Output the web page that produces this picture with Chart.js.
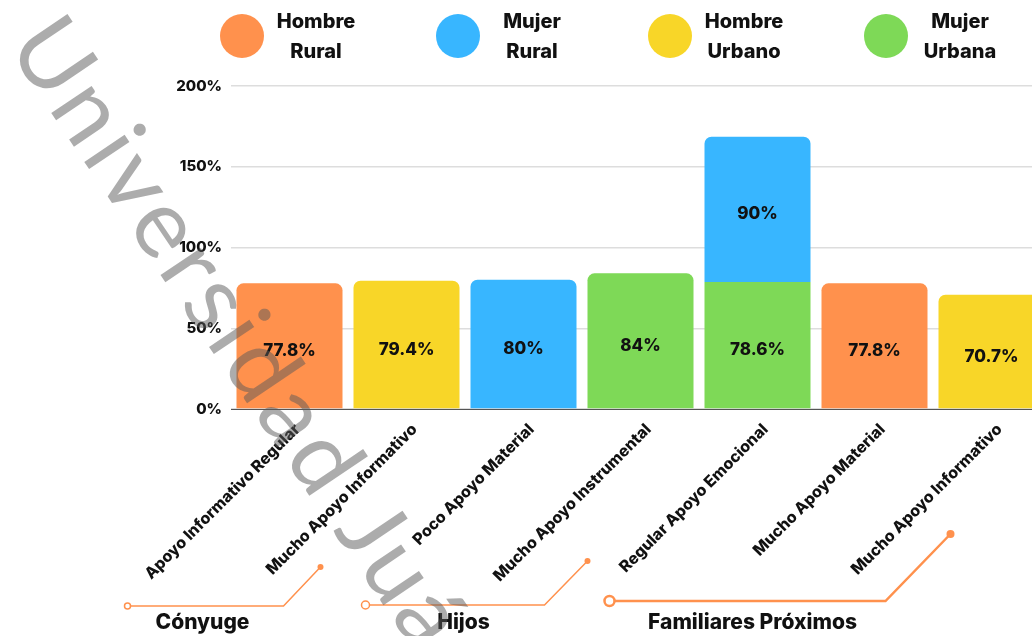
<!DOCTYPE html>
<html>
<head>
<meta charset="utf-8">
<script src="https://cdn.jsdelivr.net/npm/chart.js@4"></script>
<style>
  html, body { margin: 0; padding: 0; background: #fff; overflow: hidden; }
  #wrap { position: relative; width: 1050px; height: 636px; }
  #chart { position: absolute; left: 0; top: 0; }
  #legend { position: absolute; left: 0; top: 0; width: 1032px; height: 76px; }
  .item { position: absolute; top: 6px; display: flex; align-items: center; }
  .dot { width: 44px; height: 44px; border-radius: 50%; }
  .txt { width: 96px; margin-left: 4px; font: 800 20px Inter, sans-serif; line-height: 30px; text-align: center; color: #111; }
</style>
</head>
<body>
<div id="wrap">
  <canvas id="chart" width="1050" height="636"></canvas>
  <div id="legend"></div>
</div>
<script>
// categories along the x axis
const categories = [
  "Apoyo Informativo Regular",
  "Mucho Apoyo Informativo",
  "Poco Apoyo Material",
  "Mucho Apoyo Instrumental",
  "Regular Apoyo Emocional",
  "Mucho Apoyo Material",
  "Mucho Apoyo Informativo"
];

// one series per group, null where the group has no bar
const seriesNames = ["Hombre Rural", "Mujer Rural", "Hombre Urbano", "Mujer Urbana"];
const hombreRural  = [77.8, null, null, null, null, 77.8, null];
const mujerRural   = [null, null, 80, null, 90, null, null];
const hombreUrbano = [null, 79.4, null, null, null, null, 70.7];
const mujerUrbana  = [null, null, null, 84, 78.6, null, null];

const yTicks = [0, 50, 100, 150, 200];

// family groups under the axis
const groupNames = ["Cónyuge", "Hijos", "Familiares Próximos"];
const groupFirst = [0, 2, 4];
const groupLast  = [1, 3, 6];

const colors = ["#ff914d", "#38b6ff", "#f8d628", "#7ed957"];
const FONT = "Inter, sans-serif";

// legend: coloured circle and two-line name
const legendLeft = [220, 436, 648, 864];
const legendEl = document.getElementById("legend");
seriesNames.forEach(function (name, i) {
  const item = document.createElement("div");
  item.className = "item";
  item.style.left = legendLeft[i] + "px";
  const dot = document.createElement("div");
  dot.className = "dot";
  dot.style.background = colors[i];
  const txt = document.createElement("div");
  txt.className = "txt";
  txt.innerHTML = name.split(" ").join("<br>");
  item.appendChild(dot);
  item.appendChild(txt);
  legendEl.appendChild(item);
});

// percentage text in the middle of each bar segment
const valueLabels = {
  id: "valueLabels",
  afterDatasetsDraw(chart) {
    const ctx = chart.ctx;
    ctx.save();
    ctx.font = "800 17px " + FONT;
    ctx.fillStyle = "#111";
    ctx.textAlign = "center";
    ctx.textBaseline = "middle";
    chart.data.datasets.forEach(function (ds, i) {
      chart.getDatasetMeta(i).data.forEach(function (bar, j) {
        const v = ds.data[j];
        if (v == null) return;
        ctx.fillText(v + "%", bar.x, (bar.y + bar.base) / 2 + 5);
      });
    });
    ctx.restore();
  }
};

// orange bracket lines and group names below the rotated labels
const groupDeco = [
  { start: -162, elbow: -123, tip: -86, lineY: 606, tipY: 567, text: -87, r: 3, w: 1.5 },
  { start: -158, elbow: -96,  tip: -53, lineY: 605, tipY: 561, text: -60, r: 4, w: 1.5 },
  { start: -148, elbow: -106, tip: -41, lineY: 601, tipY: 534, text: -5,  r: 5, w: 2.5 }
];
const groupLabels = {
  id: "groupLabels",
  afterDraw(chart) {
    const ctx = chart.ctx;
    const x = chart.scales.x;
    ctx.save();
    groupNames.forEach(function (name, g) {
      const d = groupDeco[g];
      const first = x.getPixelForValue(groupFirst[g]);
      const last = x.getPixelForValue(groupLast[g]);
      ctx.strokeStyle = "#ff914d";
      ctx.fillStyle = "#ff914d";
      ctx.lineWidth = d.w;
      ctx.beginPath();
      ctx.moveTo(first + d.start + d.r, d.lineY);
      ctx.lineTo(last + d.elbow, d.lineY);
      ctx.lineTo(last + d.tip, d.tipY);
      ctx.stroke();
      ctx.beginPath();
      ctx.arc(first + d.start, d.lineY, d.r, 0, Math.PI * 2);
      ctx.stroke();
      ctx.beginPath();
      ctx.arc(last + d.tip, d.tipY, d.w + 1.5, 0, Math.PI * 2);
      ctx.fill();
      ctx.font = "800 21px " + FONT;
      ctx.fillStyle = "#111";
      ctx.textAlign = "center";
      ctx.textBaseline = "middle";
      ctx.fillText(name, first + d.text, 623);
    });
    ctx.restore();
  }
};

// diagonal watermark over the whole figure
const watermark = {
  id: "watermark",
  afterDraw(chart) {
    const ctx = chart.ctx;
    ctx.save();
    ctx.translate(6, 46);
    ctx.rotate(56 * Math.PI / 180);
    ctx.font = "400 96px Lato, sans-serif";
    ctx.letterSpacing = "5px";
    ctx.fillStyle = "rgba(90, 90, 90, 0.5)";
    ctx.textBaseline = "alphabetic";
    ctx.fillText("Universidad Juárez", 0, 0);
    ctx.restore();
  }
};

const series = [hombreRural, mujerRural, hombreUrbano, mujerUrbana];

new Chart(document.getElementById("chart"), {
  type: "bar",
  data: {
    labels: categories,
    datasets: series.map(function (data, i) {
      return {
        label: seriesNames[i],
        data: data,
        backgroundColor: colors[i],
        borderRadius: 7,
        borderSkipped: "start",
        barPercentage: 0.906,
        categoryPercentage: 1,
        // the rural women series sits on top of its stack
        order: i === 1 ? 1 : 0
      };
    })
  },
  options: {
    responsive: false,
    animation: false,
    layout: { padding: { top: 86, left: 0, right: 0, bottom: 0 } },
    plugins: {
      legend: { display: false },
      tooltip: { enabled: false }
    },
    scales: {
      x: {
        stacked: true,
        grid: { display: false },
        border: { display: true, color: "#555", width: 1 },
        ticks: {
          autoSkip: false,
          minRotation: 45,
          maxRotation: 45,
          padding: 3,
          labelOffset: 8,
          color: "#111",
          font: { family: FONT, size: 16, weight: "800" }
        },
        afterFit: function (scale) { scale.height = 227; }
      },
      y: {
        stacked: true,
        min: 0,
        max: 200,
        afterBuildTicks: function (scale) {
          scale.ticks = yTicks.map(function (v) { return { value: v }; });
        },
        grid: { color: "#dddddd", lineWidth: 1.5, drawTicks: false },
        border: { display: false },
        ticks: {
          padding: 9,
          color: "#111",
          font: { family: FONT, size: 15, weight: "800" },
          callback: function (v) { return v + "%"; }
        },
        afterFit: function (scale) { scale.width = 231; }
      }
    }
  },
  plugins: [valueLabels, groupLabels, watermark]
});
</script>
</body>
</html>
